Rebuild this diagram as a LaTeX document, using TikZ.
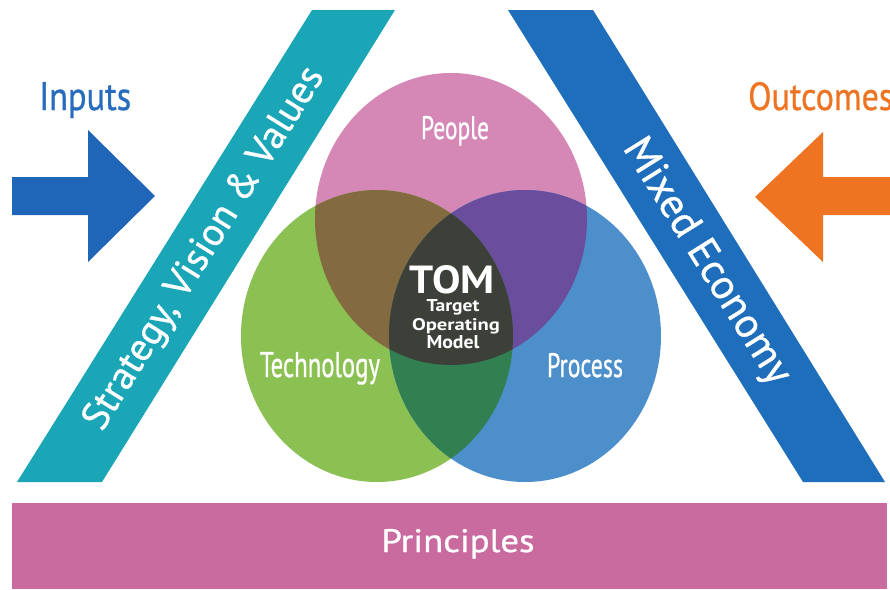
\documentclass[tikz,border=0pt]{standalone}
\usepackage{fontspec}
\setmainfont{PT Sans}
\newfontfamily\semibfont[FakeBold=0.8]{PT Sans}
\usepackage{graphicx}
\definecolor{teal}{RGB}{27,166,184}
\definecolor{bandblue}{RGB}{30,110,188}
\definecolor{arrblue}{RGB}{31,102,185}
\definecolor{inblue}{RGB}{40,108,190}
\definecolor{outorange}{RGB}{238,116,34}
\definecolor{princ}{RGB}{201,107,158}
\definecolor{cpink}{RGB}{213,135,181}
\definecolor{cgreen}{RGB}{139,193,83}
\definecolor{cblue}{RGB}{77,143,203}
\definecolor{cbrown}{RGB}{131,106,65}
\definecolor{cpurple}{RGB}{106,78,157}
\definecolor{cdgreen}{RGB}{50,127,82}
\definecolor{ccenter}{RGB}{60,64,56}
\newcommand{\fitlbl}[3]{\resizebox{#1pt}{#2pt}{#3}}
\tikzset{
  wlabel/.style={text=white, inner sep=0pt, outer sep=0pt, anchor=base},
  shapefill/.style={draw=none}
}
\def\pinkE{(451,219) ellipse [x radius=136pt, y radius=146pt]}
\def\greenE{(377,336) ellipse [x radius=136pt, y radius=146pt]}
\def\blueE{(525,336) ellipse [x radius=136pt, y radius=146pt]}
\begin{document}
\begin{tikzpicture}[x=1pt,y=-1pt]
\useasboundingbox[fill=white] (0,0) rectangle (890,589);
% bands
\fill[teal] (17,482) -- (102,482) -- (395,10) -- (312,10) -- cycle;
\fill[bandblue] (508,10) -- (593,10) -- (885,482) -- (803,482) -- cycle;
% principles bar
\fill[princ] (12,503) rectangle (887,589);
% arrows
\fill[arrblue] (12,177) -- (88,177) -- (88,130) -- (155,196) -- (88,262) -- (88,215) -- (12,215) -- cycle;
\fill[outorange] (892,177) -- (823,177) -- (823,132) -- (755,197) -- (823,262) -- (823,215) -- (892,215) -- cycle;
% circles
\fill[cpink] \pinkE;
\fill[cgreen] \greenE;
\fill[cblue] \blueE;
\begin{scope}\clip \pinkE; \fill[cbrown] \greenE; \end{scope}
\begin{scope}\clip \pinkE; \fill[cpurple] \blueE; \end{scope}
\begin{scope}\clip \greenE; \fill[cdgreen] \blueE; \end{scope}
\begin{scope}\clip \pinkE; \clip \greenE; \fill[ccenter] \blueE; \end{scope}
% labels
\node[wlabel] (people) at (455,139) {\fitlbl{68}{23}{\semibfont People}};
\node[wlabel] (tech) at (320,377) {\fitlbl{120}{25}{\semibfont Technology}};
\node[wlabel] (proc) at (585,377) {\fitlbl{76}{24}{\semibfont Process}};
\node[wlabel] (tom) at (452,293) {\fitlbl{85}{28}{\bfseries TOM}};
\node[wlabel] (target) at (453,311) {\fitlbl{53}{12}{\bfseries Target}};
\node[wlabel] (operating) at (456,330) {\fitlbl{88}{12}{\bfseries Operating}};
\node[wlabel] (model) at (453,348) {\fitlbl{53}{13}{\bfseries Model}};
\node[wlabel] (principles) at (458,552) {\fitlbl{153}{23}{\semibfont Principles}};
\node[inner sep=0pt, anchor=base west, text=inblue] (inputs) at (39,110) {\fitlbl{92}{28}{\semibfont Inputs}};
\node[inner sep=0pt, anchor=base west, text=outorange] (outcomes) at (748,110) {\fitlbl{145}{28}{\semibfont Outcomes}};
\node[text=white, inner sep=0pt, rotate=58] (strategy) at (205,249) {\resizebox{420pt}{!}{\semibfont Strategy, Vision \& Values}};
\node[text=white, inner sep=0pt, rotate=-58] (mixed) at (706,262) {\resizebox{282pt}{!}{\semibfont Mixed Economy}};
\end{tikzpicture}
\end{document}
